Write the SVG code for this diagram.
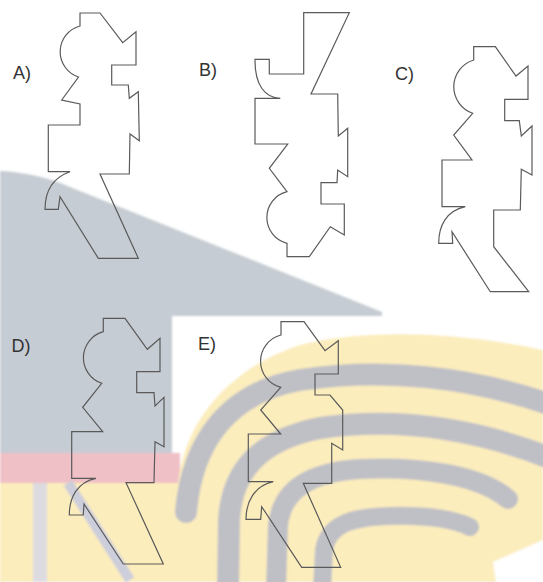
<svg xmlns="http://www.w3.org/2000/svg" width="543" height="582" viewBox="0 0 543 582">
<style>
.fig{fill:none;stroke:#5a5a5a;stroke-width:1.2;stroke-linejoin:miter}
.lbl{font-family:"Liberation Sans",Arial,sans-serif;font-size:18px;fill:#333}
.stripe{fill:none;stroke:#bfc0c6;stroke-linecap:round}
</style>
<defs>
<filter id="soft" x="-5%" y="-5%" width="110%" height="110%"><feGaussianBlur stdDeviation="1.3"/></filter>
</defs>
<rect width="543" height="582" fill="#ffffff"/>
<g id="watermark" filter="url(#soft)">
<path d="M0,171 C25,172 50,178 70,187 L382,312 L382,316 L172,316 L172,453 L0,453 Z" fill="#c6ccd3"/>
<rect x="0" y="453" width="180" height="30" fill="#efc0c6"/>
<path d="M0,483 L178,483 C185,420 230,368 300,345 C360,330 450,330 543,350 L543,582 L0,582 Z" fill="#fcedbd"/>
<path class="stripe" stroke-width="22" d="M186,512 C192,440 230,392 300,380 C380,368 470,375 560,408"/>
<path class="stripe" stroke-width="22" d="M228,590 L229,520 C232,470 260,440 320,428 C390,418 470,425 560,462"/>
<path class="stripe" stroke-width="20" d="M276,590 L278,525 C282,490 310,472 360,469 C420,466 480,475 508,499"/>
<path class="stripe" stroke-width="18" d="M322,590 L324,550 C328,525 350,517 390,516 C430,515 455,520 470,527"/>
<path d="M68,483 L130,580" stroke="#cdcedb" stroke-width="10" fill="none"/>
<rect x="33" y="483" width="14" height="99" fill="#dcdbe0"/>
<path d="M543,540 L493,562 L496,582 L543,582 Z" fill="#ffffff"/>
</g>
<g id="optA">
<path class="fig" d="M80,13 L100,13 L122.7,42.7 L136,31.7 L136,65 L111.7,65 L111.7,85 L128.3,85 L129.3,98.3 L138.3,91.7 L139.3,140.7 L130,134 L129.3,174 L100,174 L138.3,258.3 L98.3,258.3 L60,196.7 L58.3,209.3 L45,209.3 C45,192 52,178 70,171.7 L48.3,171.7 L48.3,125 L80,125 L80,104 L61.7,100 L78.5,77 A26.6,26.6 0 0 1 80,26 Z"/>
<text class="lbl" x="13" y="78.5">A)</text>
</g>
<g id="optB">
<path class="fig" d="M303.7,12.7 L349.3,12.7 L311,94 L337.7,94 L338.3,136 L347.7,128.3 L347.7,176.7 L337.7,170 L337,182.7 L321,182.7 L321,204 L344.3,204 L344.3,235 L330.3,226.7 L309.3,256.7 L287,256.7 L287,243.3 A26.6,26.6 0 0 1 287,191.7 L269.3,168.3 L287.7,144 L255,144 L255,98.3 L280.3,98.3 C265,98 255,85 255,60.7 L255,59.3 L269.3,59.3 L269.3,74 L303.7,74 Z"/>
<text class="lbl" x="199" y="76">B)</text>
</g>
<g id="optC">
<path class="fig" d="M473.7,46.7 L495.3,46.7 L516,76 L528,66 L528,99.3 L504.7,99.3 L504.7,120.7 L519.3,120.7 L521.3,136 L532,126 L532,175 L521.3,169.3 L520.3,210 L493.7,210 L493.7,246.7 L528.7,291.7 L490.3,291.7 L452,231.7 L452.7,243.3 L438.7,243.3 C438.7,226 446,211 465.3,206.7 L442,206.7 L442,160 L472,160 L453.7,135 L472.7,113.3 A28,28 0 0 1 473.7,60 Z"/>
<text class="lbl" x="395" y="80">C)</text>
</g>
<g id="optD">
<path class="fig" d="M103.3,318.3 L125,318.3 L147.3,349.3 L160,338.3 L160,371.7 L136.7,371.7 L136.7,392.7 L154,392.7 L155,406 L164,397.3 L164,446.7 L155,441.7 L154,482.7 L126,482.7 L163.3,564 L123.3,564 L84,504 L83.3,515 L69.3,515 C69.3,498 77,482 96,478.3 L71.7,478.3 L71.7,431.7 L102.7,431.7 L82.7,407.3 L101.7,383.3 A27,27 0 0 1 103.3,331.7 Z"/>
<text class="lbl" x="11.5" y="352">D)</text>
</g>
<g id="optE">
<path class="fig" d="M281,321.7 L304,321.7 L325,350.7 L338.3,340.7 L338.3,374 L315,374 L315,395 L330,395 L342.7,410 L342.7,450 L331.7,443.3 L331.7,483.3 L303.3,483.3 L340.7,567.3 L301.7,567.3 L261.7,506.7 L260.7,519.3 L246,519.3 C246,502 254,486 273.3,481.7 L248.3,481.7 L248.3,434 L280.7,434 L260.7,410 L280.7,387.3 A27,27 0 0 1 281,335 Z"/>
<text class="lbl" x="198" y="350">E)</text>
</g>
</svg>
